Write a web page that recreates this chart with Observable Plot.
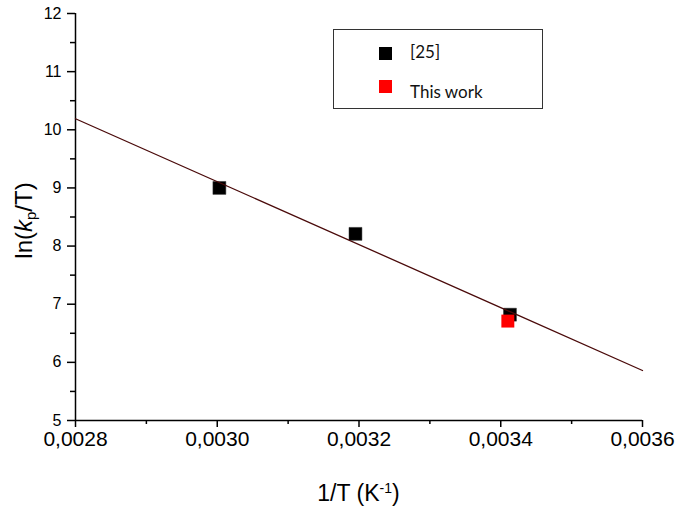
<!DOCTYPE html>
<html>
<head>
<meta charset="utf-8">
<script src="https://cdn.jsdelivr.net/npm/d3@7"></script>
<script src="https://cdn.jsdelivr.net/npm/@observablehq/plot@0.6"></script>
<style>
  body { margin: 0; background: #fff; }
  #wrap { position: relative; width: 677px; height: 507px; }
  #legend { position: absolute; left: 333px; top: 29px; width: 208px; height: 78px;
            border: 1.5px solid #333; background: #fff; font-family: Lato, "Open Sans", sans-serif; font-size: 17px; color: #111; }
  .sw { position: absolute; width: 13px; height: 13px; }
  .lt { position: absolute; white-space: nowrap; }
</style>
</head>
<body>
<div id="wrap"></div>
<script>
// Data: literature points [25]
const refX = [0.003003, 0.003195, 0.003413];
const refY = [9.0, 8.21, 6.82];
// This work
const workX = [0.00341];
const workY = [6.71];
// Linear fit line endpoints
const fitX = [0.0028, 0.0036];
const fitY = [10.19, 5.86];

const xMajor = [0.0028, 0.0030, 0.0032, 0.0034, 0.0036];
const xMinor = [0.0029, 0.0031, 0.0033, 0.0035];
const yMajor = [5, 6, 7, 8, 9, 10, 11, 12];
const yMinor = [5.5, 6.5, 7.5, 8.5, 9.5, 10.5, 11.5];

const legendLabels = ["[25]", "This work"];
const legendColors = ["#000000", "#ff0000"];

const refData = refX.map((x, i) => ({x, y: refY[i]}));
const workData = workX.map((x, i) => ({x, y: workY[i]}));
const fitData = fitX.map((x, i) => ({x, y: fitY[i]}));

const fmt = d => d3.format(".4f")(d).replace(".", ",");

const W = 677, H = 507;
const plot = Plot.plot({
  width: W, height: H,
  marginLeft: 75, marginRight: 35, marginTop: 13, marginBottom: 87,
  style: { fontFamily: "'Liberation Sans', Arial, sans-serif", background: "#fff", color: "#000" },
  x: { domain: [0.0028, 0.0036] },
  y: { domain: [5, 12] },
  marks: [
    Plot.axisX(xMinor, { tickSize: 4, text: null, label: null, strokeWidth: 1.5 }),
    Plot.axisX(xMajor, { tickSize: 7, tickPadding: 4, tickFormat: fmt, label: null, fontSize: 21, strokeWidth: 1.5 }),
    Plot.axisY(yMinor, { tickSize: 5, text: null, label: null, strokeWidth: 1.5 }),
    Plot.axisY(yMajor, { tickSize: 8, tickPadding: 6, tickFormat: d => String(d), label: null, fontSize: 16, strokeWidth: 1.5 }),
    Plot.ruleX([0.0028], { stroke: "#000", strokeWidth: 1.5 }),
    Plot.ruleY([5], { stroke: "#000", strokeWidth: 1.5 }),
    Plot.dot(refData, { x: "x", y: "y", symbol: "square", r: 7.3, fill: "#000", stroke: "#333", strokeWidth: 0.5 }),
    Plot.line(fitData, { x: "x", y: "y", stroke: "#4a0a0a", strokeWidth: 1.3 }),
    Plot.dot(workData, { x: "x", y: "y", symbol: "square", r: 7.3, fill: "#ff0000" })
  ]
});

const wrap = document.getElementById("wrap");
wrap.appendChild(plot);

// Axis titles with rich text
const svg = d3.select(plot);
const xs = plot.scale("x"), ys = plot.scale("y");
const xMid = (xs.apply(0.0028) + xs.apply(0.0036)) / 2;
const yMid = (ys.apply(5) + ys.apply(12)) / 2;

const xt = svg.append("text")
  .attr("x", xMid).attr("y", 501)
  .attr("text-anchor", "middle")
  .attr("font-family", "'Liberation Sans', Arial, sans-serif")
  .attr("font-size", 23).attr("fill", "#000");
xt.append("tspan").text("1/T (K");
xt.append("tspan").attr("font-size", 14).attr("baseline-shift", "55%").text("-1");
xt.append("tspan").text(")");

const yt = svg.append("text")
  .attr("transform", `translate(32,${yMid + 4}) rotate(-90)`)
  .attr("text-anchor", "middle")
  .attr("font-family", "'Liberation Sans', Arial, sans-serif")
  .attr("font-size", 24).attr("fill", "#000");
yt.append("tspan").text("ln(");
yt.append("tspan").attr("font-style", "italic").text("k");
yt.append("tspan").attr("font-size", 15).attr("baseline-shift", "-25%").text("p");
yt.append("tspan").text("/T)");

// Legend
const leg = document.createElement("div");
leg.id = "legend";
const rows = [{sy: 17, ty: 11}, {sy: 50, ty: 51}];
legendLabels.forEach((lab, i) => {
  const sw = document.createElement("div");
  sw.className = "sw";
  sw.style.left = "45px"; sw.style.top = rows[i].sy + "px";
  sw.style.background = legendColors[i];
  leg.appendChild(sw);
  const t = document.createElement("div");
  t.className = "lt";
  t.style.left = "76px"; t.style.top = rows[i].ty + "px";
  t.textContent = lab;
  leg.appendChild(t);
});
wrap.appendChild(leg);
</script>
</body>
</html>
